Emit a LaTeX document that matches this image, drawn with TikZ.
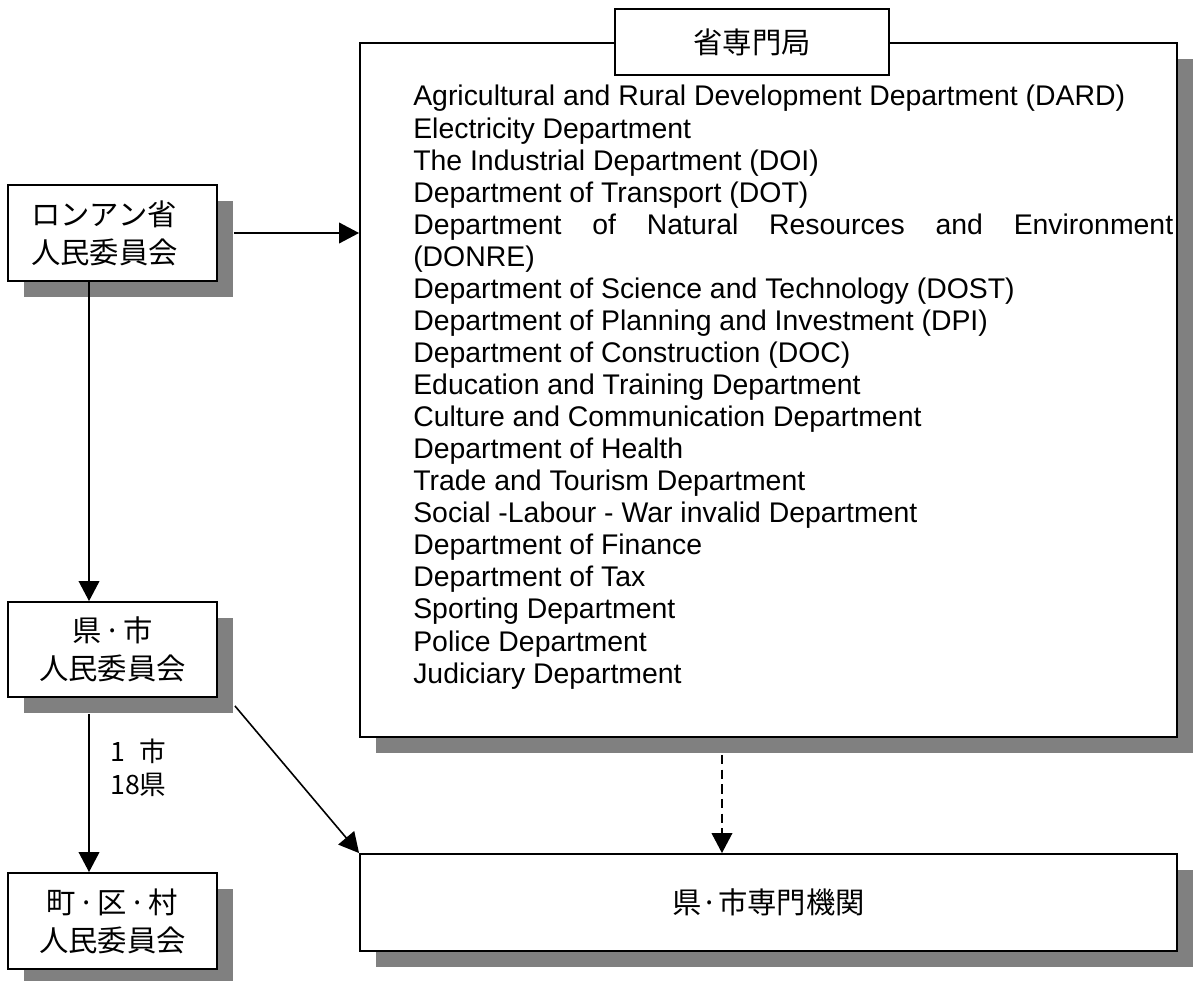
\documentclass[tikz,border=0pt]{standalone}
\usepackage{fontspec}
\setmainfont{Liberation Sans}
\newfontfamily\jp{Noto Sans CJK JP}
\usetikzlibrary{arrows.meta,shadows}
\definecolor{shadowgray}{RGB}{128,128,128}
\newcommand{\jpbox}{\jp\fontsize{22pt}{28.5pt}\selectfont}
\newcommand{\jplabel}{\jp\fontsize{20pt}{24.75pt}\selectfont}
\newcommand{\listfont}{\fontsize{21.3pt}{24pt}\selectfont}
\newcommand{\mdot}{\kern2pt·\kern2pt}
\begin{document}
\begin{tikzpicture}[x=0.75pt,y=-0.75pt,
  box/.style={draw=black, line width=1.4pt, fill=white, inner sep=0pt,
    drop shadow={shadow xshift=12pt, shadow yshift=-12pt, fill=shadowgray, opacity=1}},
  plainbox/.style={draw=black, line width=1.4pt, fill=white, inner sep=0pt},
  listtext/.style={font=\listfont, inner sep=0pt},
  conn/.style={line width=1.2pt, -{Triangle[length=15pt,width=15.5pt]}},
  dconn/.style={conn, dash pattern=on 7pt off 4pt}
]
\useasboundingbox (0,0) rectangle (1193,981);

% big box and title
\node[box, minimum width=612.75pt, minimum height=520.5pt] (big) at (768.5,390) {};
\node[plainbox, minimum width=205.5pt, minimum height=49.5pt, font=\jpbox] (title) at (752,42) {省専門局};

\foreach \t [count=\i] in {
  Agricultural and Rural Development Department (DARD),
  Electricity Department,
  The Industrial Department (DOI),
  Department of Transport (DOT),
  {\hbox to 570pt{Department\hfill of\hfill Natural\hfill Resources\hfill and\hfill Environment}},
  (DONRE),
  Department of Science and Technology (DOST),
  Department of Planning and Investment (DPI),
  Department of Construction (DOC),
  Education and Training Department,
  Culture and Communication Department,
  Department of Health,
  Trade and Tourism Department,
  Social -Labour - War invalid Department,
  Department of Finance,
  Department of Tax,
  Sporting Department,
  Police Department,
  Judiciary Department}
  \node[listtext, anchor=base west] (l\i) at (413,{106+(\i-1)*32.06}) {\t};

% left boxes
\node[box, minimum width=156.75pt, minimum height=72pt, align=left, text width=122pt, font=\jpbox] (b1) at (112.5,233) {ロンアン省\\人民委員会};
\node[box, minimum width=156.75pt, minimum height=71.25pt, align=center, font=\jpbox] (b2) at (112.5,649.5) {県\mdot 市\\人民委員会};
\node[box, minimum width=156.75pt, minimum height=72pt, align=center, font=\jpbox] (b3) at (112.5,921) {町\mdot 区\mdot 村\\人民委員会};

% bottom box
\node[box, minimum width=612.75pt, minimum height=72.75pt, font=\jpbox] (bot) at (768.5,902.5) {県·市専門機関};

% label
\node[font=\jplabel, anchor=west, align=left, inner sep=0pt] (lab) at (110,768) {1\phantom{8}市\\18県};

% connectors
\draw[conn, shorten <=12pt] (b1.east) -- (b1.east -| big.west);
\draw[conn] ([xshift=-17.6pt]b1.south) -- ([xshift=-17.6pt]b2.north);
\draw[conn, shorten <=12pt] ([xshift=-17.6pt]b2.south) -- ([xshift=-17.6pt]b3.north);
\draw[conn] ([shift={(12.75pt,-6pt)}]b2.south east) -- (bot.north west);
\coordinate (dtop) at ([xshift=-34.9pt]big.south);
\draw[dconn, shorten <=12.75pt] (dtop) -- (dtop |- bot.north);
\end{tikzpicture}
\end{document}
